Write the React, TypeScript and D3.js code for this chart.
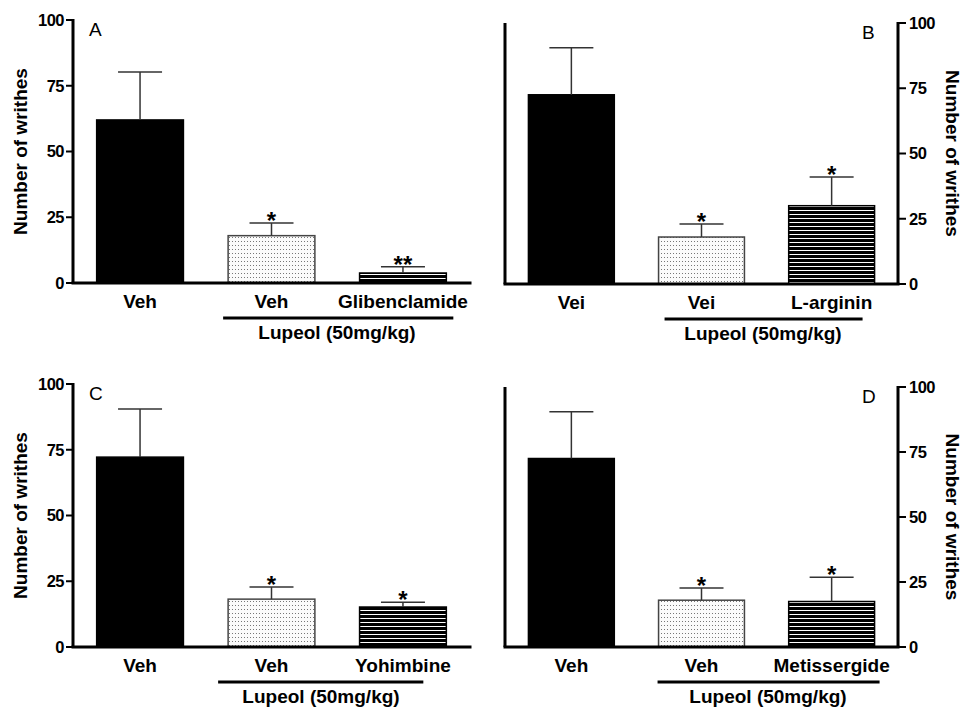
import * as d3 from 'd3'

// values (mean, upper error bar = mean + sem)
const panelIds = ['A', 'B', 'C', 'D']
const categoriesA = ['Veh', 'Veh', 'Glibenclamide']
const categoriesB = ['Vei', 'Vei', 'L-arginin']
const categoriesC = ['Veh', 'Veh', 'Yohimbine']
const categoriesD = ['Veh', 'Veh', 'Metissergide']
const meansA = [62, 18, 3.8]
const meansB = [72.5, 18, 30]
const meansC = [72.2, 18.2, 15.2]
const meansD = [72.5, 18, 17.5]
const semA = [18.2, 4.8, 2.4]
const semB = [18, 5, 11]
const semC = [18.3, 4.6, 1.8]
const semD = [18, 4.7, 9.3]
const starsA = ['', '*', '**']
const starsB = ['', '*', '*']
const starsC = ['', '*', '*']
const starsD = ['', '*', '*']
const yTicks = [0, 25, 50, 75, 100]
const groupLabel = 'Lupeol (50mg/kg)'
const yLabel = 'Number of writhes'

const FONT = '"Liberation Sans", Arial, Helvetica, sans-serif'
const fills = ['#000', 'url(#dots)', 'url(#stripes)']

// layout of the four panels
const layout = [
  { x0: 73, x1: 470, top: 20, bottom: 283, side: 'left', group: [-5, 7], lupeolX: 337 },
  { x0: 505, x1: 898, top: 23, bottom: 284, side: 'right', group: [6, -12], lupeolX: 763 },
  { x0: 73, x1: 470, top: 384, bottom: 647, side: 'left', group: [-10, -23], lupeolX: 321 },
  { x0: 505, x1: 898, top: 387, bottom: 647, side: 'right', group: [-1, 5], lupeolX: 768 },
]

const allCats = [categoriesA, categoriesB, categoriesC, categoriesD]
const allMeans = [meansA, meansB, meansC, meansD]
const allSem = [semA, semB, semC, semD]
const allStars = [starsA, starsB, starsC, starsD]

function Panel({ idx }: { idx: number }) {
  const L = layout[idx]
  const cats = allCats[idx]
  const means = allMeans[idx]
  const sem = allSem[idx]
  const stars = allStars[idx]
  const keys = cats.map((_, i) => String(i))

  const x = d3.scaleBand().domain(keys).range([L.x0, L.x1]).paddingInner(0.34).paddingOuter(0.18)
  const y = d3.scaleLinear().domain([0, 100]).range([L.bottom, L.top])
  const bw = x.bandwidth()
  const axisX = L.side === 'left' ? L.x0 : L.x1
  const midY = (L.top + L.bottom) / 2

  return (
    <g>
      {/* bars */}
      {means.map((m, i) => (
        <rect key={'b' + i} x={x(keys[i])} y={y(m)} width={bw} height={y(0) - y(m)}
          fill={fills[i]} stroke={i === 1 ? '#444' : '#000'} strokeWidth={1.5} />
      ))}
      {/* error bars */}
      {means.map((m, i) => {
        const cx = (x(keys[i]) as number) + bw / 2
        const top = y(m + sem[i])
        return (
          <g key={'e' + i} stroke="#333" strokeWidth={1.5}>
            <line x1={cx} x2={cx} y1={y(m)} y2={top} />
            <line x1={cx - 22} x2={cx + 22} y1={top} y2={top} />
          </g>
        )
      })}
      {/* significance */}
      {stars.map((s, i) => s ? (
        <text key={'s' + i} x={(x(keys[i]) as number) + bw / 2} y={y(means[i] + sem[i]) + 6}
          textAnchor="middle" fontSize={24} fontWeight="bold" fontFamily={FONT}>{s}</text>
      ) : null)}
      {/* axes */}
      {L.side === 'right' && (
        <line x1={L.x0} x2={L.x0} y1={L.top} y2={L.bottom} stroke="#000" strokeWidth={3} />
      )}
      <line x1={axisX} x2={axisX} y1={L.top - 1} y2={L.bottom} stroke="#000" strokeWidth={3} />
      <line x1={L.x0 - 1.5} x2={L.x1 + 1.5} y1={L.bottom} y2={L.bottom} stroke="#000" strokeWidth={3} />
      {yTicks.map(t => (
        <g key={'t' + t}>
          <line x1={axisX} x2={L.side === 'left' ? axisX - 7 : axisX + 8} y1={y(t)} y2={y(t)}
            stroke="#000" strokeWidth={2} />
          <text x={L.side === 'left' ? axisX - 9 : axisX + 11} y={y(t)} dy="0.36em"
            textAnchor={L.side === 'left' ? 'end' : 'start'} fontSize={16.5} fontWeight="bold"
            fontFamily={FONT} letterSpacing={-0.5}>{t}</text>
        </g>
      ))}
      {/* category labels */}
      {cats.map((c, i) => (
        <text key={'c' + i} x={(x(keys[i]) as number) + bw / 2} y={L.bottom + 25}
          textAnchor="middle" fontSize={19} fontWeight="bold" fontFamily={FONT}>{c}</text>
      ))}
      <line x1={(x(keys[1]) as number) + L.group[0]} x2={(x(keys[2]) as number) + bw + L.group[1]}
        y1={L.bottom + 35} y2={L.bottom + 35} stroke="#000" strokeWidth={3} />
      <text x={L.lupeolX} y={L.bottom + 56} textAnchor="middle" fontSize={19} fontWeight="bold"
        fontFamily={FONT}>{groupLabel}</text>
      {/* panel letter */}
      <text x={L.side === 'left' ? 89 : 862} y={L.top + 16} fontSize={19} fontFamily={FONT}>
        {panelIds[idx]}
      </text>
      {/* y title */}
      {L.side === 'left' ? (
        <text transform={`translate(27,${midY}) rotate(-90)`} textAnchor="middle"
          fontSize={19} fontWeight="bold" fontFamily={FONT}>{yLabel}</text>
      ) : (
        <text transform={`translate(946,${midY}) rotate(90)`} textAnchor="middle"
          fontSize={19} fontWeight="bold" fontFamily={FONT}>{yLabel}</text>
      )}
    </g>
  )
}

export default function App() {
  return (
    <svg width={962} height={707} style={{ position: 'absolute', left: 0, top: 0, background: '#fff' }}>
      <defs>
        <pattern id="dots" patternUnits="userSpaceOnUse" width={3} height={4}>
          <rect width={3} height={4} fill="#fbfbfb" />
          <rect x={1} y={1} width={1} height={1} fill="#777" />
        </pattern>
        <pattern id="stripes" patternUnits="userSpaceOnUse" width={8} height={4}>
          <rect width={8} height={4} fill="#000" />
          <rect y={2} width={8} height={1} fill="#fff" />
        </pattern>
      </defs>
      <rect width={962} height={707} fill="#fff" />
      {panelIds.map((_, i) => <Panel key={i} idx={i} />)}
    </svg>
  )
}
